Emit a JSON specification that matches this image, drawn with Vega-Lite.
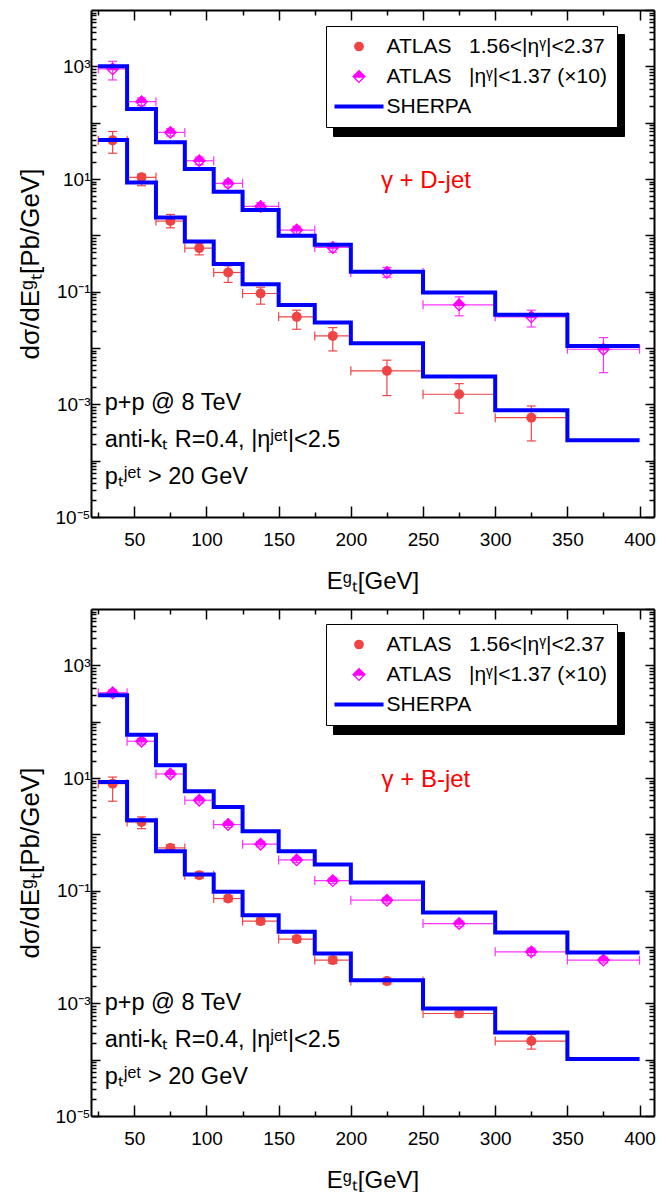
{
  "$schema": "https://vega.github.io/schema/vega-lite/v6.json",
  "padding": {"left": 17, "top": 9, "right": 10, "bottom": 4},
  "background": "white",
  "config": {
    "view": {"stroke": null},
    "font": "Liberation Sans",
    "axis": {
      "grid": false, "domainColor": "black", "domainWidth": 2, "tickColor": "black", "tickWidth": 1.5,
      "labelColor": "black", "labelFont": "Liberation Sans", "labelFontSize": 19, "labelFlush": false, "labelOverlap": false,
      "titleColor": "black", "titleFont": "Liberation Sans", "titleFontWeight": "normal", "titleFontSize": 24
    },
    "legend": {
      "orient": "none", "title": null, "padding": 10, "rowPadding": 8, "symbolSize": 95, "symbolOffset": 12.5, "labelOffset": 17,
      "labelFont": "Liberation Sans", "labelFontSize": 21, "labelColor": "black", "labelLimit": 600, "strokeColor": "black"
    }
  },
  "datasets": {
    "histD": [
      {"x": 25, "f": 49.2, "c": 1000}, {"x": 45, "f": 8.69, "c": 175}, {"x": 65, "f": 2.07, "c": 44.7},
      {"x": 85, "f": 0.778, "c": 15.0}, {"x": 105, "f": 0.309, "c": 5.94}, {"x": 125, "f": 0.136, "c": 2.81},
      {"x": 150, "f": 0.0577, "c": 0.98}, {"x": 175, "f": 0.0283, "c": 0.68}, {"x": 200, "f": 0.0122, "c": 0.225},
      {"x": 250, "f": 0.00311, "c": 0.0966}, {"x": 300, "f": 0.000787, "c": 0.0388}, {"x": 350, "f": 0.000231, "c": 0.0109},
      {"x": 400, "f": 0.000231, "c": 0.0109}
    ],
    "fwdD": [
      {"x": 35, "lo": 25, "hi": 45, "y": 48.5, "ylo": 28.7, "yhi": 69.7},
      {"x": 55, "lo": 45, "hi": 65, "y": 10.7, "ylo": 7.6, "yhi": 12.2},
      {"x": 75, "lo": 65, "hi": 85, "y": 1.79, "ylo": 1.36, "yhi": 2.35},
      {"x": 95, "lo": 85, "hi": 105, "y": 0.593, "ylo": 0.45, "yhi": 0.73},
      {"x": 115, "lo": 105, "hi": 125, "y": 0.219, "ylo": 0.146, "yhi": 0.288},
      {"x": 137.5, "lo": 125, "hi": 150, "y": 0.0927, "ylo": 0.060, "yhi": 0.12},
      {"x": 162.5, "lo": 150, "hi": 175, "y": 0.0357, "ylo": 0.0215, "yhi": 0.0469},
      {"x": 187.5, "lo": 175, "hi": 200, "y": 0.0164, "ylo": 0.00887, "yhi": 0.023},
      {"x": 225, "lo": 200, "hi": 250, "y": 0.00393, "ylo": 0.00143, "yhi": 0.00608},
      {"x": 275, "lo": 250, "hi": 300, "y": 0.00151, "ylo": 0.000696, "yhi": 0.00233},
      {"x": 325, "lo": 300, "hi": 350, "y": 0.00058, "ylo": 0.000224, "yhi": 0.000935}
    ],
    "cenD": [
      {"x": 35, "lo": 25, "hi": 45, "y": 900, "ylo": 573, "yhi": 1227},
      {"x": 55, "lo": 45, "hi": 65, "y": 236, "ylo": 200, "yhi": 275},
      {"x": 75, "lo": 65, "hi": 85, "y": 67.2, "ylo": 58, "yhi": 78},
      {"x": 95, "lo": 85, "hi": 105, "y": 21.1, "ylo": 18, "yhi": 24.5},
      {"x": 115, "lo": 105, "hi": 125, "y": 8.35, "ylo": 7.2, "yhi": 9.6},
      {"x": 137.5, "lo": 125, "hi": 150, "y": 3.26, "ylo": 2.8, "yhi": 3.8},
      {"x": 162.5, "lo": 150, "hi": 175, "y": 1.24, "ylo": 1.05, "yhi": 1.45},
      {"x": 187.5, "lo": 175, "hi": 200, "y": 0.609, "ylo": 0.5, "yhi": 0.72},
      {"x": 225, "lo": 200, "hi": 250, "y": 0.22, "ylo": 0.18, "yhi": 0.27},
      {"x": 275, "lo": 250, "hi": 300, "y": 0.0585, "ylo": 0.0373, "yhi": 0.081},
      {"x": 325, "lo": 300, "hi": 350, "y": 0.0357, "ylo": 0.0236, "yhi": 0.0469},
      {"x": 375, "lo": 350, "hi": 400, "y": 0.0095, "ylo": 0.00365, "yhi": 0.0153}
    ],
    "histB": [
      {"x": 25, "f": 8.51, "c": 294}, {"x": 45, "f": 1.78, "c": 58.7}, {"x": 65, "f": 0.502, "c": 16.8},
      {"x": 85, "f": 0.193, "c": 5.82}, {"x": 105, "f": 0.0953, "c": 3.06}, {"x": 125, "f": 0.0367, "c": 1.135},
      {"x": 150, "f": 0.0186, "c": 0.502}, {"x": 175, "f": 0.00766, "c": 0.29}, {"x": 200, "f": 0.00258, "c": 0.14},
      {"x": 250, "f": 0.00081, "c": 0.0409}, {"x": 300, "f": 0.000304, "c": 0.018}, {"x": 350, "f": 0.000103, "c": 0.00798},
      {"x": 400, "f": 0.000103, "c": 0.00798}
    ],
    "fwdB": [
      {"x": 35, "lo": 25, "hi": 45, "y": 7.94, "ylo": 3.87, "yhi": 10.4},
      {"x": 55, "lo": 45, "hi": 65, "y": 1.66, "ylo": 1.26, "yhi": 2.04},
      {"x": 75, "lo": 65, "hi": 85, "y": 0.574, "ylo": 0.5, "yhi": 0.66},
      {"x": 95, "lo": 85, "hi": 105, "y": 0.188, "ylo": 0.165, "yhi": 0.215},
      {"x": 115, "lo": 105, "hi": 125, "y": 0.0724, "ylo": 0.064, "yhi": 0.082},
      {"x": 137.5, "lo": 125, "hi": 150, "y": 0.0288, "ylo": 0.0255, "yhi": 0.0325},
      {"x": 162.5, "lo": 150, "hi": 175, "y": 0.0138, "ylo": 0.0122, "yhi": 0.0156},
      {"x": 187.5, "lo": 175, "hi": 200, "y": 0.00585, "ylo": 0.0051, "yhi": 0.0067},
      {"x": 225, "lo": 200, "hi": 250, "y": 0.00248, "ylo": 0.0022, "yhi": 0.0028},
      {"x": 275, "lo": 250, "hi": 300, "y": 0.00066, "ylo": 0.00057, "yhi": 0.00076},
      {"x": 325, "lo": 300, "hi": 350, "y": 0.000214, "ylo": 0.000154, "yhi": 0.00028}
    ],
    "cenB": [
      {"x": 35, "lo": 25, "hi": 45, "y": 327, "ylo": 290, "yhi": 370},
      {"x": 55, "lo": 45, "hi": 65, "y": 44.9, "ylo": 40, "yhi": 50},
      {"x": 75, "lo": 65, "hi": 85, "y": 11.8, "ylo": 10.5, "yhi": 13.3},
      {"x": 95, "lo": 85, "hi": 105, "y": 4.03, "ylo": 3.6, "yhi": 4.5},
      {"x": 115, "lo": 105, "hi": 125, "y": 1.49, "ylo": 1.33, "yhi": 1.67},
      {"x": 137.5, "lo": 125, "hi": 150, "y": 0.668, "ylo": 0.6, "yhi": 0.75},
      {"x": 162.5, "lo": 150, "hi": 175, "y": 0.352, "ylo": 0.315, "yhi": 0.39},
      {"x": 187.5, "lo": 175, "hi": 200, "y": 0.151, "ylo": 0.135, "yhi": 0.168},
      {"x": 225, "lo": 200, "hi": 250, "y": 0.0678, "ylo": 0.06, "yhi": 0.076},
      {"x": 275, "lo": 250, "hi": 300, "y": 0.0261, "ylo": 0.023, "yhi": 0.029},
      {"x": 325, "lo": 300, "hi": 350, "y": 0.0082, "ylo": 0.0071, "yhi": 0.0095},
      {"x": 375, "lo": 350, "hi": 400, "y": 0.00585, "ylo": 0.0052, "yhi": 0.0066}
    ]
  },
  "vconcat": [
    {
      "width": 563, "height": 507,
      "resolve": {"axis": {"x": "independent", "y": "independent"}},
      "layer": [
        {
          "data": {"name": "histD"}, "mark": {"type": "point", "opacity": 0},
          "encoding": {
            "x": {"field": "x", "type": "quantitative", "scale": {"domain": [20, 410], "nice": false, "zero": false},
              "axis": {"orient": "bottom", "values": [50, 100, 150, 200, 250, 300, 350, 400], "tickSize": -11, "labelPadding": 24,
                "title": "Eᵍₜ[GeV]", "titleY": 71, "titleBaseline": "alphabetic"}},
            "y": {"field": "f", "type": "quantitative", "scale": {"type": "log", "domain": [0.00001, 10000], "nice": false},
              "axis": {"orient": "left", "values": [0.00001, 0.0001, 0.001, 0.01, 0.1, 1, 10, 100, 1000], "tickSize": -9, "labelPadding": 10,
                "labelExpr": "datum.value == 1000 ? '10³' : datum.value == 10 ? '10¹' : datum.value == 0.1 ? '10⁻¹' : datum.value == 0.001 ? '10⁻³' : datum.value == 0.00001 ? '10⁻⁵' : ''",
                "title": "dσ/dEᵍₜ[Pb/GeV]", "titleFontSize": 26, "titleX": -53, "titleBaseline": "alphabetic"}}
          }
        },
        {
          "data": {"name": "histD"}, "mark": {"type": "point", "opacity": 0},
          "encoding": {
            "x": {"field": "x", "type": "quantitative",
              "axis": {"orient": "bottom", "values": [25, 75, 125, 175, 225, 275, 325, 375], "tickSize": -5, "labels": false, "domain": false, "title": null}},
            "y": {"field": "f", "type": "quantitative", "scale": {"type": "log"},
              "axis": {"orient": "left", "values": [2e-5,3e-5,4e-5,5e-5,6e-5,7e-5,8e-5,9e-5,2e-4,3e-4,4e-4,5e-4,6e-4,7e-4,8e-4,9e-4,0.002,0.003,0.004,0.005,0.006,0.007,0.008,0.009,0.02,0.03,0.04,0.05,0.06,0.07,0.08,0.09,0.2,0.3,0.4,0.5,0.6,0.7,0.8,0.9,2,3,4,5,6,7,8,9,20,30,40,50,60,70,80,90,200,300,400,500,600,700,800,900,2000,3000,4000,5000,6000,7000,8000,9000], "tickSize": -5, "labels": false, "domain": false, "title": null}}
          }
        },
        {
          "data": {"name": "histD"}, "mark": {"type": "point", "opacity": 0},
          "encoding": {
            "x": {"field": "x", "type": "quantitative",
              "axis": {"orient": "top", "values": [50, 100, 150, 200, 250, 300, 350, 400], "tickSize": -10, "labels": false, "title": null}},
            "y": {"field": "f", "type": "quantitative", "scale": {"type": "log"},
              "axis": {"orient": "right", "values": [0.00001, 0.0001, 0.001, 0.01, 0.1, 1, 10, 100, 1000, 10000], "tickSize": -9, "labels": false, "title": null}}
          }
        },
        {
          "data": {"name": "histD"}, "mark": {"type": "point", "opacity": 0},
          "encoding": {
            "x": {"field": "x", "type": "quantitative",
              "axis": {"orient": "top", "values": [25, 75, 125, 175, 225, 275, 325, 375], "tickSize": -5, "labels": false, "domain": false, "title": null}},
            "y": {"field": "f", "type": "quantitative", "scale": {"type": "log"},
              "axis": {"orient": "right", "values": [2e-5,3e-5,4e-5,5e-5,6e-5,7e-5,8e-5,9e-5,2e-4,3e-4,4e-4,5e-4,6e-4,7e-4,8e-4,9e-4,0.002,0.003,0.004,0.005,0.006,0.007,0.008,0.009,0.02,0.03,0.04,0.05,0.06,0.07,0.08,0.09,0.2,0.3,0.4,0.5,0.6,0.7,0.8,0.9,2,3,4,5,6,7,8,9,20,30,40,50,60,70,80,90,200,300,400,500,600,700,800,900,2000,3000,4000,5000,6000,7000,8000,9000], "tickSize": -5, "labels": false, "domain": false, "title": null}},
            "opacity": {"datum": "c", "type": "ordinal",
              "scale": {"domain": ["a", "b", "c"], "range": [0, 0, 0]},
              "legend": {"legendX": 242, "legendY": 24, "zindex": 1, "fillColor": "black", "strokeColor": "black", "rowPadding": 39,
                "labelExpr": "datum.value == 'a' ? 'ATLAS\u00a0\u00a0\u00a01.56<|ηᵞ|<2.37' : datum.value == 'b' ? 'ATLAS\u00a0\u00a0\u00a0|ηᵞ|<1.37 (×10)' : 'SHERPA'"}}
          }
        },
        {
          "data": {"name": "fwdD"}, "mark": {"type": "rule", "color": "#f04444", "strokeWidth": 1.2},
          "encoding": {"x": {"field": "lo", "type": "quantitative", "axis": null}, "x2": {"field": "hi"},
            "y": {"field": "y", "type": "quantitative", "scale": {"type": "log"}, "axis": null}}
        },
        {
          "data": {"name": "fwdD"}, "transform": [{"fold": ["lo", "hi"], "as": ["edge", "xe"]}],
          "mark": {"type": "tick", "orient": "vertical", "color": "#f04444", "size": 9, "thickness": 1.2, "opacity": 1},
          "encoding": {"x": {"field": "xe", "type": "quantitative", "axis": null},
            "y": {"field": "y", "type": "quantitative", "scale": {"type": "log"}, "axis": null}}
        },
        {
          "data": {"name": "fwdD"}, "mark": {"type": "rule", "color": "#f04444", "strokeWidth": 1.2},
          "encoding": {"x": {"field": "x", "type": "quantitative", "axis": null},
            "y": {"field": "ylo", "type": "quantitative", "scale": {"type": "log"}, "axis": null}, "y2": {"field": "yhi"}}
        },
        {
          "data": {"name": "fwdD"}, "transform": [{"fold": ["ylo", "yhi"], "as": ["edge", "ye"]}],
          "mark": {"type": "tick", "orient": "horizontal", "color": "#f04444", "size": 9, "thickness": 1.2, "opacity": 1},
          "encoding": {"x": {"field": "x", "type": "quantitative", "axis": null},
            "y": {"field": "ye", "type": "quantitative", "scale": {"type": "log"}, "axis": null}}
        },
        {
          "data": {"name": "fwdD"}, "mark": {"type": "point", "filled": true, "size": 100, "opacity": 1},
          "encoding": {"x": {"field": "x", "type": "quantitative", "axis": null},
            "y": {"field": "y", "type": "quantitative", "scale": {"type": "log"}, "axis": null},
            "color": {"datum": "ATLAS\u00a0\u00a0\u00a01.56<|ηᵞ|<2.37",
              "scale": {"domain": ["ATLAS\u00a0\u00a0\u00a01.56<|ηᵞ|<2.37", "ATLAS\u00a0\u00a0\u00a0|ηᵞ|<1.37 (×10)", "SHERPA"], "range": ["#f04444", "#ff00ff", "#0000ff"]},
              "legend": {"legendX": 235, "legendY": 16, "zindex": 2, "fillColor": "white"}},
            "shape": {"datum": "ATLAS\u00a0\u00a0\u00a01.56<|ηᵞ|<2.37",
              "scale": {"domain": ["ATLAS\u00a0\u00a0\u00a01.56<|ηᵞ|<2.37", "ATLAS\u00a0\u00a0\u00a0|ηᵞ|<1.37 (×10)", "SHERPA"],
                "range": ["circle", "M-1.4,0L0,-1.4L1.4,0L0,1.4ZM-0.73,0.28L0,1.01L0.73,0.28Z", "M-5.03,-0.41H5.03V0.41H-5.03Z"]},
              "legend": {"legendX": 235, "legendY": 16, "zindex": 2, "fillColor": "white"}}
          }
        },
        {
          "data": {"name": "cenD"}, "mark": {"type": "rule", "color": "#ff33ff", "strokeWidth": 1.2},
          "encoding": {"x": {"field": "lo", "type": "quantitative", "axis": null}, "x2": {"field": "hi"},
            "y": {"field": "y", "type": "quantitative", "scale": {"type": "log"}, "axis": null}}
        },
        {
          "data": {"name": "cenD"}, "transform": [{"fold": ["lo", "hi"], "as": ["edge", "xe"]}],
          "mark": {"type": "tick", "orient": "vertical", "color": "#ff33ff", "size": 9, "thickness": 1.2, "opacity": 1},
          "encoding": {"x": {"field": "xe", "type": "quantitative", "axis": null},
            "y": {"field": "y", "type": "quantitative", "scale": {"type": "log"}, "axis": null}}
        },
        {
          "data": {"name": "cenD"}, "mark": {"type": "rule", "color": "#ff33ff", "strokeWidth": 1.2},
          "encoding": {"x": {"field": "x", "type": "quantitative", "axis": null},
            "y": {"field": "ylo", "type": "quantitative", "scale": {"type": "log"}, "axis": null}, "y2": {"field": "yhi"}}
        },
        {
          "data": {"name": "cenD"}, "transform": [{"fold": ["ylo", "yhi"], "as": ["edge", "ye"]}],
          "mark": {"type": "tick", "orient": "horizontal", "color": "#ff33ff", "size": 9, "thickness": 1.2, "opacity": 1},
          "encoding": {"x": {"field": "x", "type": "quantitative", "axis": null},
            "y": {"field": "ye", "type": "quantitative", "scale": {"type": "log"}, "axis": null}}
        },
        {
          "data": {"name": "cenD"},
          "mark": {"type": "point", "shape": "M-1,0L0,-1L1,0L0,1ZM-0.52,0.2L0,0.72L0.52,0.2Z", "filled": true, "size": 180, "opacity": 1, "color": "#ff00ff"},
          "encoding": {"x": {"field": "x", "type": "quantitative", "axis": null},
            "y": {"field": "y", "type": "quantitative", "scale": {"type": "log"}, "axis": null}}
        },
        {
          "data": {"name": "histD"}, "transform": [{"fold": ["f", "c"], "as": ["g", "v"]}],
          "mark": {"type": "line", "interpolate": "step-after", "strokeWidth": 4, "color": "#0000ff"},
          "encoding": {"x": {"field": "x", "type": "quantitative", "axis": null},
            "y": {"field": "v", "type": "quantitative", "scale": {"type": "log"}, "axis": null},
            "detail": {"field": "g"}}
        },
        {
          "data": {"values": [{}]},
          "mark": {"type": "text", "text": "γ + D-jet", "font": "Liberation Sans", "fontSize": 24, "color": "#ff0000", "align": "center", "baseline": "middle"},
          "encoding": {"x": {"datum": 252, "type": "quantitative", "axis": null},
            "y": {"datum": 9.3, "type": "quantitative", "scale": {"type": "log"}, "axis": null}}
        },
        {
          "data": {"values": [{}]},
          "mark": {"type": "text", "text": ["p+p @ 8 TeV", "anti-kₜ R=0.4, |ηʲᵉᵗ|<2.5", "pₜʲᵉᵗ > 20 GeV"], "lineHeight": 37,
            "font": "Liberation Sans", "fontSize": 23.5, "color": "black", "align": "left", "baseline": "middle"},
          "encoding": {"x": {"datum": 29.5, "type": "quantitative", "axis": null},
            "y": {"datum": 0.00107, "type": "quantitative", "scale": {"type": "log"}, "axis": null}}
        }
      ]
    },
    {
      "width": 563, "height": 507,
      "resolve": {"axis": {"x": "independent", "y": "independent"}},
      "layer": [
        {
          "data": {"name": "histB"}, "mark": {"type": "point", "opacity": 0},
          "encoding": {
            "x": {"field": "x", "type": "quantitative", "scale": {"domain": [20, 410], "nice": false, "zero": false},
              "axis": {"orient": "bottom", "values": [50, 100, 150, 200, 250, 300, 350, 400], "tickSize": -11, "labelPadding": 24,
                "title": "Eᵍₜ[GeV]", "titleY": 71, "titleBaseline": "alphabetic"}},
            "y": {"field": "f", "type": "quantitative", "scale": {"type": "log", "domain": [0.00001, 10000], "nice": false},
              "axis": {"orient": "left", "values": [0.00001, 0.0001, 0.001, 0.01, 0.1, 1, 10, 100, 1000], "tickSize": -9, "labelPadding": 10,
                "labelExpr": "datum.value == 1000 ? '10³' : datum.value == 10 ? '10¹' : datum.value == 0.1 ? '10⁻¹' : datum.value == 0.001 ? '10⁻³' : datum.value == 0.00001 ? '10⁻⁵' : ''",
                "title": "dσ/dEᵍₜ[Pb/GeV]", "titleFontSize": 26, "titleX": -53, "titleBaseline": "alphabetic"}}
          }
        },
        {
          "data": {"name": "histB"}, "mark": {"type": "point", "opacity": 0},
          "encoding": {
            "x": {"field": "x", "type": "quantitative",
              "axis": {"orient": "bottom", "values": [25, 75, 125, 175, 225, 275, 325, 375], "tickSize": -5, "labels": false, "domain": false, "title": null}},
            "y": {"field": "f", "type": "quantitative", "scale": {"type": "log"},
              "axis": {"orient": "left", "values": [2e-5,3e-5,4e-5,5e-5,6e-5,7e-5,8e-5,9e-5,2e-4,3e-4,4e-4,5e-4,6e-4,7e-4,8e-4,9e-4,0.002,0.003,0.004,0.005,0.006,0.007,0.008,0.009,0.02,0.03,0.04,0.05,0.06,0.07,0.08,0.09,0.2,0.3,0.4,0.5,0.6,0.7,0.8,0.9,2,3,4,5,6,7,8,9,20,30,40,50,60,70,80,90,200,300,400,500,600,700,800,900,2000,3000,4000,5000,6000,7000,8000,9000], "tickSize": -5, "labels": false, "domain": false, "title": null}}
          }
        },
        {
          "data": {"name": "histB"}, "mark": {"type": "point", "opacity": 0},
          "encoding": {
            "x": {"field": "x", "type": "quantitative",
              "axis": {"orient": "top", "values": [50, 100, 150, 200, 250, 300, 350, 400], "tickSize": -10, "labels": false, "title": null}},
            "y": {"field": "f", "type": "quantitative", "scale": {"type": "log"},
              "axis": {"orient": "right", "values": [0.00001, 0.0001, 0.001, 0.01, 0.1, 1, 10, 100, 1000, 10000], "tickSize": -9, "labels": false, "title": null}}
          }
        },
        {
          "data": {"name": "histB"}, "mark": {"type": "point", "opacity": 0},
          "encoding": {
            "x": {"field": "x", "type": "quantitative",
              "axis": {"orient": "top", "values": [25, 75, 125, 175, 225, 275, 325, 375], "tickSize": -5, "labels": false, "domain": false, "title": null}},
            "y": {"field": "f", "type": "quantitative", "scale": {"type": "log"},
              "axis": {"orient": "right", "values": [2e-5,3e-5,4e-5,5e-5,6e-5,7e-5,8e-5,9e-5,2e-4,3e-4,4e-4,5e-4,6e-4,7e-4,8e-4,9e-4,0.002,0.003,0.004,0.005,0.006,0.007,0.008,0.009,0.02,0.03,0.04,0.05,0.06,0.07,0.08,0.09,0.2,0.3,0.4,0.5,0.6,0.7,0.8,0.9,2,3,4,5,6,7,8,9,20,30,40,50,60,70,80,90,200,300,400,500,600,700,800,900,2000,3000,4000,5000,6000,7000,8000,9000], "tickSize": -5, "labels": false, "domain": false, "title": null}},
            "opacity": {"datum": "c", "type": "ordinal",
              "scale": {"domain": ["a", "b", "c"], "range": [0, 0, 0]},
              "legend": {"legendX": 242, "legendY": 23, "zindex": 1, "fillColor": "black", "strokeColor": "black", "rowPadding": 39,
                "labelExpr": "datum.value == 'a' ? 'ATLAS\u00a0\u00a0\u00a01.56<|ηᵞ|<2.37' : datum.value == 'b' ? 'ATLAS\u00a0\u00a0\u00a0|ηᵞ|<1.37 (×10)' : 'SHERPA'"}}
          }
        },
        {
          "data": {"name": "fwdB"}, "mark": {"type": "rule", "color": "#f04444", "strokeWidth": 1.2},
          "encoding": {"x": {"field": "lo", "type": "quantitative", "axis": null}, "x2": {"field": "hi"},
            "y": {"field": "y", "type": "quantitative", "scale": {"type": "log"}, "axis": null}}
        },
        {
          "data": {"name": "fwdB"}, "transform": [{"fold": ["lo", "hi"], "as": ["edge", "xe"]}],
          "mark": {"type": "tick", "orient": "vertical", "color": "#f04444", "size": 9, "thickness": 1.2, "opacity": 1},
          "encoding": {"x": {"field": "xe", "type": "quantitative", "axis": null},
            "y": {"field": "y", "type": "quantitative", "scale": {"type": "log"}, "axis": null}}
        },
        {
          "data": {"name": "fwdB"}, "mark": {"type": "rule", "color": "#f04444", "strokeWidth": 1.2},
          "encoding": {"x": {"field": "x", "type": "quantitative", "axis": null},
            "y": {"field": "ylo", "type": "quantitative", "scale": {"type": "log"}, "axis": null}, "y2": {"field": "yhi"}}
        },
        {
          "data": {"name": "fwdB"}, "transform": [{"fold": ["ylo", "yhi"], "as": ["edge", "ye"]}],
          "mark": {"type": "tick", "orient": "horizontal", "color": "#f04444", "size": 9, "thickness": 1.2, "opacity": 1},
          "encoding": {"x": {"field": "x", "type": "quantitative", "axis": null},
            "y": {"field": "ye", "type": "quantitative", "scale": {"type": "log"}, "axis": null}}
        },
        {
          "data": {"name": "fwdB"}, "mark": {"type": "point", "filled": true, "size": 100, "opacity": 1},
          "encoding": {"x": {"field": "x", "type": "quantitative", "axis": null},
            "y": {"field": "y", "type": "quantitative", "scale": {"type": "log"}, "axis": null},
            "color": {"datum": "ATLAS\u00a0\u00a0\u00a01.56<|ηᵞ|<2.37",
              "scale": {"domain": ["ATLAS\u00a0\u00a0\u00a01.56<|ηᵞ|<2.37", "ATLAS\u00a0\u00a0\u00a0|ηᵞ|<1.37 (×10)", "SHERPA"], "range": ["#f04444", "#ff00ff", "#0000ff"]},
              "legend": {"legendX": 235, "legendY": 15, "zindex": 2, "fillColor": "white"}},
            "shape": {"datum": "ATLAS\u00a0\u00a0\u00a01.56<|ηᵞ|<2.37",
              "scale": {"domain": ["ATLAS\u00a0\u00a0\u00a01.56<|ηᵞ|<2.37", "ATLAS\u00a0\u00a0\u00a0|ηᵞ|<1.37 (×10)", "SHERPA"],
                "range": ["circle", "M-1.4,0L0,-1.4L1.4,0L0,1.4ZM-0.73,0.28L0,1.01L0.73,0.28Z", "M-5.03,-0.41H5.03V0.41H-5.03Z"]},
              "legend": {"legendX": 235, "legendY": 15, "zindex": 2, "fillColor": "white"}}
          }
        },
        {
          "data": {"name": "cenB"}, "mark": {"type": "rule", "color": "#ff33ff", "strokeWidth": 1.2},
          "encoding": {"x": {"field": "lo", "type": "quantitative", "axis": null}, "x2": {"field": "hi"},
            "y": {"field": "y", "type": "quantitative", "scale": {"type": "log"}, "axis": null}}
        },
        {
          "data": {"name": "cenB"}, "transform": [{"fold": ["lo", "hi"], "as": ["edge", "xe"]}],
          "mark": {"type": "tick", "orient": "vertical", "color": "#ff33ff", "size": 9, "thickness": 1.2, "opacity": 1},
          "encoding": {"x": {"field": "xe", "type": "quantitative", "axis": null},
            "y": {"field": "y", "type": "quantitative", "scale": {"type": "log"}, "axis": null}}
        },
        {
          "data": {"name": "cenB"}, "mark": {"type": "rule", "color": "#ff33ff", "strokeWidth": 1.2},
          "encoding": {"x": {"field": "x", "type": "quantitative", "axis": null},
            "y": {"field": "ylo", "type": "quantitative", "scale": {"type": "log"}, "axis": null}, "y2": {"field": "yhi"}}
        },
        {
          "data": {"name": "cenB"}, "transform": [{"fold": ["ylo", "yhi"], "as": ["edge", "ye"]}],
          "mark": {"type": "tick", "orient": "horizontal", "color": "#ff33ff", "size": 9, "thickness": 1.2, "opacity": 1},
          "encoding": {"x": {"field": "x", "type": "quantitative", "axis": null},
            "y": {"field": "ye", "type": "quantitative", "scale": {"type": "log"}, "axis": null}}
        },
        {
          "data": {"name": "cenB"},
          "mark": {"type": "point", "shape": "M-1,0L0,-1L1,0L0,1ZM-0.52,0.2L0,0.72L0.52,0.2Z", "filled": true, "size": 180, "opacity": 1, "color": "#ff00ff"},
          "encoding": {"x": {"field": "x", "type": "quantitative", "axis": null},
            "y": {"field": "y", "type": "quantitative", "scale": {"type": "log"}, "axis": null}}
        },
        {
          "data": {"name": "histB"}, "transform": [{"fold": ["f", "c"], "as": ["g", "v"]}],
          "mark": {"type": "line", "interpolate": "step-after", "strokeWidth": 4, "color": "#0000ff"},
          "encoding": {"x": {"field": "x", "type": "quantitative", "axis": null},
            "y": {"field": "v", "type": "quantitative", "scale": {"type": "log"}, "axis": null},
            "detail": {"field": "g"}}
        },
        {
          "data": {"values": [{}]},
          "mark": {"type": "text", "text": "γ + B-jet", "font": "Liberation Sans", "fontSize": 24, "color": "#ff0000", "align": "center", "baseline": "middle"},
          "encoding": {"x": {"datum": 252, "type": "quantitative", "axis": null},
            "y": {"datum": 9.1, "type": "quantitative", "scale": {"type": "log"}, "axis": null}}
        },
        {
          "data": {"values": [{}]},
          "mark": {"type": "text", "text": ["p+p @ 8 TeV", "anti-kₜ R=0.4, |ηʲᵉᵗ|<2.5", "pₜʲᵉᵗ > 20 GeV"], "lineHeight": 37,
            "font": "Liberation Sans", "fontSize": 23.5, "color": "black", "align": "left", "baseline": "middle"},
          "encoding": {"x": {"datum": 29.5, "type": "quantitative", "axis": null},
            "y": {"datum": 0.001, "type": "quantitative", "scale": {"type": "log"}, "axis": null}}
        }
      ]
    }
  ],
  "spacing": 92,
  "bounds": "flush",
  "resolve": {
    "scale": {"color": "independent", "shape": "independent", "opacity": "independent"},
    "legend": {"color": "independent", "shape": "independent", "opacity": "independent"}
  }
}
